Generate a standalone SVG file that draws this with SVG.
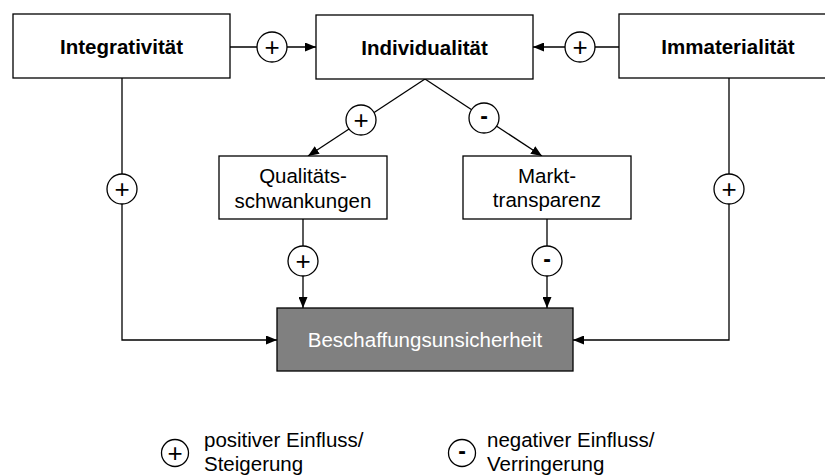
<svg xmlns="http://www.w3.org/2000/svg" width="825" height="475" viewBox="0 0 825 475">
<style>
.box{fill:#fff;stroke:#000;stroke-width:1.3}
.dark{fill:#808080;stroke:#000;stroke-width:1.3}
.t{font-family:"Liberation Sans",Arial,sans-serif;font-size:20.5px;fill:#000;text-anchor:middle}
.b{font-weight:bold}
.w{fill:#fff}
.ln{fill:none;stroke:#000;stroke-width:1.3}
.sc{fill:#fff;stroke:#000;stroke-width:1.3}
.sg{font-family:"Liberation Sans",Arial,sans-serif;font-size:26px;fill:#000;text-anchor:middle}
.sm{font-family:"Liberation Sans",Arial,sans-serif;font-size:23px;font-weight:bold;fill:#000;text-anchor:middle}
.lg{font-family:"Liberation Sans",Arial,sans-serif;font-size:20.5px;fill:#000}
</style>
<defs>
<marker id="ah" markerUnits="userSpaceOnUse" markerWidth="11" markerHeight="9" refX="11" refY="4.5" orient="auto">
<path d="M0,0 L11,4.5 L0,9 z" fill="#000"/>
</marker>
</defs>
<rect width="825" height="475" fill="#fff"/>
<g id="connectors">
<path class="ln" d="M230,47 H316" marker-end="url(#ah)"/>
<path class="ln" d="M619,47 H533" marker-end="url(#ah)"/>
<path class="ln" d="M425,79 L308,156" marker-end="url(#ah)"/>
<path class="ln" d="M425,79 L542,156" marker-end="url(#ah)"/>
<path class="ln" d="M122,78 V340 H277" marker-end="url(#ah)"/>
<path class="ln" d="M729,78 V340 H573" marker-end="url(#ah)"/>
<path class="ln" d="M303,219 V308" marker-end="url(#ah)"/>
<path class="ln" d="M547,219 V308" marker-end="url(#ah)"/>
<g id="sign-int-ind"><circle class="sc" cx="272" cy="47" r="15"/><text class="sg" x="272" y="56">+</text></g>
<g id="sign-imm-ind"><circle class="sc" cx="580" cy="47" r="15"/><text class="sg" x="580" y="56">+</text></g>
<g id="sign-ind-qual"><circle class="sc" cx="361" cy="120" r="15"/><text class="sg" x="361" y="129">+</text></g>
<g id="sign-ind-markt"><circle class="sc" cx="484" cy="118" r="15"/><text class="sm" x="484" y="124">-</text></g>
<g id="sign-int-bes"><circle class="sc" cx="122" cy="189" r="15"/><text class="sg" x="122" y="198">+</text></g>
<g id="sign-imm-bes"><circle class="sc" cx="729" cy="189" r="15"/><text class="sg" x="729" y="198">+</text></g>
<g id="sign-qual-bes"><circle class="sc" cx="303" cy="261" r="15"/><text class="sg" x="303" y="270">+</text></g>
<g id="sign-markt-bes"><circle class="sc" cx="547" cy="261" r="15"/><text class="sm" x="547" y="267">-</text></g>
</g>
<g id="integrativitaet">
<rect class="box" x="13" y="14" width="217" height="64"/>
<text class="t b" x="121.5" y="53.5">Integrativität</text>
</g>
<g id="individualitaet">
<rect class="box" x="316" y="15" width="217" height="64"/>
<text class="t b" x="424.5" y="54.5">Individualität</text>
</g>
<g id="immaterialitaet">
<rect class="box" x="619" y="14" width="217" height="64"/>
<text class="t b" x="728" y="53.5">Immaterialität</text>
</g>
<g id="qualitaetsschwankungen">
<rect class="box" x="219" y="156" width="168" height="63"/>
<text class="t" x="303" y="183">Qualitäts-</text>
<text class="t" x="303" y="208">schwankungen</text>
</g>
<g id="markttransparenz">
<rect class="box" x="463" y="156" width="168" height="63"/>
<text class="t" x="547" y="183">Markt-</text>
<text class="t" x="547" y="207">transparenz</text>
</g>
<g id="beschaffungsunsicherheit">
<rect class="dark" x="277" y="308" width="296" height="63"/>
<text class="t w" x="425" y="347">Beschaffungsunsicherheit</text>
</g>
<g id="legend-positive">
<circle class="sc" cx="175" cy="453" r="13.5"/>
<text class="sg" x="175" y="462">+</text>
<text class="lg" x="204" y="447">positiver Einfluss/</text>
<text class="lg" x="204" y="471">Steigerung</text>
</g>
<g id="legend-negative">
<circle class="sc" cx="462" cy="453" r="13.5"/>
<text class="sm" x="462" y="459">-</text>
<text class="lg" x="487" y="447">negativer Einfluss/</text>
<text class="lg" x="487" y="471">Verringerung</text>
</g>
</svg>
